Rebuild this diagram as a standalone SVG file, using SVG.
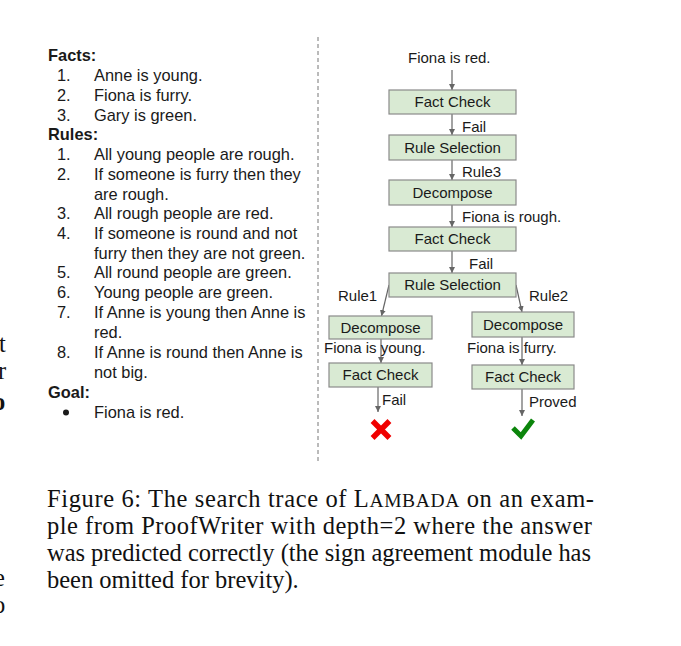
<svg xmlns="http://www.w3.org/2000/svg" width="681" height="646" viewBox="0 0 681 646">
<style>
.lt{font-family:"Liberation Sans",Arial,sans-serif;font-size:16.4px;fill:#1a1a1a}
.b{font-weight:bold}
.dt{font-family:"Liberation Sans",Arial,sans-serif;font-size:15px;fill:#1a1a1a}
.c{text-anchor:middle}
.box{fill:#d9ead3;stroke:#8a8a8a;stroke-width:1.2}
.ar{stroke:#666;stroke-width:1.2;fill:none;marker-end:url(#ah)}
.cap{font-family:"Liberation Serif","Times New Roman",serif;font-size:24.5px;fill:#111}
</style>
<defs>
<marker id="ah" markerUnits="userSpaceOnUse" markerWidth="7" markerHeight="7" refX="6" refY="3" orient="auto">
<path d="M0,0 L6,3 L0,6 z" fill="#666"/>
</marker>
</defs>
<rect width="681" height="646" fill="#fff"/>
<g id="edge-fragments" class="cap">
<text x="-1" y="352">t</text>
<text x="-2" y="379">r</text>
<text x="-7" y="410" font-weight="bold">o</text>
<text x="-6" y="586">e</text>
<text x="-7" y="613">o</text>
</g>
<line id="divider" x1="318" y1="37" x2="318" y2="462" stroke="#777" stroke-width="1" stroke-dasharray="4 3"/>
<g id="context" class="lt">
<text x="48" y="61" class="b">Facts:</text>
<text x="57" y="81">1.</text><text x="94" y="81">Anne is young.</text>
<text x="57" y="101">2.</text><text x="94" y="101">Fiona is furry.</text>
<text x="57" y="120.5">3.</text><text x="94" y="120.5">Gary is green.</text>
<text x="48" y="140" class="b">Rules:</text>
<text x="57" y="160">1.</text><text x="94" y="160">All young people are rough.</text>
<text x="57" y="180">2.</text><text x="94" y="180">If someone is furry then they</text>
<text x="94" y="199.5">are rough.</text>
<text x="57" y="219">3.</text><text x="94" y="219">All rough people are red.</text>
<text x="57" y="239">4.</text><text x="94" y="239">If someone is round and not</text>
<text x="94" y="258.5">furry then they are not green.</text>
<text x="57" y="278">5.</text><text x="94" y="278">All round people are green.</text>
<text x="57" y="298">6.</text><text x="94" y="298">Young people are green.</text>
<text x="57" y="318">7.</text><text x="94" y="318">If Anne is young then Anne is</text>
<text x="94" y="338">red.</text>
<text x="57" y="358">8.</text><text x="94" y="358">If Anne is round then Anne is</text>
<text x="94" y="378">not big.</text>
<text x="48" y="398" class="b">Goal:</text>
<circle cx="66" cy="412.5" r="3" fill="#1a1a1a"/>
<text x="94" y="418">Fiona is red.</text>
</g>
<g id="connectors">
<line class="ar" x1="452" y1="70" x2="452" y2="90"/>
<line class="ar" x1="452" y1="114" x2="452" y2="135"/>
<line class="ar" x1="452" y1="160" x2="452" y2="180"/>
<line class="ar" x1="452" y1="205" x2="452" y2="227"/>
<line class="ar" x1="452" y1="251" x2="452" y2="273"/>
<line class="ar" x1="389" y1="285" x2="381.5" y2="316"/>
<line class="ar" x1="516" y1="285" x2="522" y2="312"/>
<line class="ar" x1="381" y1="339" x2="381" y2="363"/>
<line class="ar" x1="378" y1="387" x2="378" y2="412"/>
<line class="ar" x1="522" y1="337" x2="522" y2="365"/>
<line class="ar" x1="522" y1="389" x2="522" y2="416"/>
</g>
<g id="edge-labels" class="dt">
<text x="408" y="63">Fiona is red.</text>
<text x="462" y="132">Fail</text>
<text x="462" y="177">Rule3</text>
<text x="462" y="222">Fiona is rough.</text>
<text x="469" y="269">Fail</text>
<text x="338" y="301">Rule1</text>
<text x="529" y="301">Rule2</text>
<text x="324" y="353">Fiona is young.</text>
<text x="467" y="353">Fiona is furry.</text>
<text x="382" y="405">Fail</text>
<text x="529" y="407">Proved</text>
</g>
<g id="fact-check-1"><rect class="box" x="389" y="90" width="127" height="24"/><text class="dt c" x="452.5" y="107">Fact Check</text></g>
<g id="rule-selection-1"><rect class="box" x="389" y="135" width="127" height="25"/><text class="dt c" x="452.5" y="152.5">Rule Selection</text></g>
<g id="decompose-1"><rect class="box" x="389" y="180" width="127" height="25"/><text class="dt c" x="452.5" y="197.5">Decompose</text></g>
<g id="fact-check-2"><rect class="box" x="389" y="227" width="127" height="24"/><text class="dt c" x="452.5" y="244">Fact Check</text></g>
<g id="rule-selection-2"><rect class="box" x="389" y="273" width="127" height="24"/><text class="dt c" x="452.5" y="290">Rule Selection</text></g>
<g id="decompose-left"><rect class="box" x="329" y="316" width="103" height="23"/><text class="dt c" x="380.5" y="333">Decompose</text></g>
<g id="fact-check-left"><rect class="box" x="329" y="363" width="103" height="24"/><text class="dt c" x="380.5" y="380">Fact Check</text></g>
<g id="decompose-right"><rect class="box" x="472" y="312" width="102" height="25"/><text class="dt c" x="523" y="329.5">Decompose</text></g>
<g id="fact-check-right"><rect class="box" x="472" y="365" width="102" height="24"/><text class="dt c" x="523" y="382">Fact Check</text></g>
<g id="fail-mark"><path d="M374.5,423 L387.5,436 M387.5,423 L374.5,436" stroke="#f00000" stroke-width="5.5" stroke-linecap="square"/></g>
<g id="proved-mark"><polyline points="513,428 521,436 533,420" fill="none" stroke="#0b850b" stroke-width="5"/></g>
<g id="caption" class="cap">
<text x="47" y="507" textLength="547" lengthAdjust="spacing">Figure 6:  The search trace of L<tspan font-size="19.5">AMBADA</tspan> on an exam-</text>
<text x="47" y="534" textLength="545" lengthAdjust="spacing">ple from ProofWriter with depth=2 where the answer</text>
<text x="47" y="561" textLength="544" lengthAdjust="spacing">was predicted correctly (the sign agreement module has</text>
<text x="47" y="588">been omitted for brevity).</text>
</g>
</svg>
